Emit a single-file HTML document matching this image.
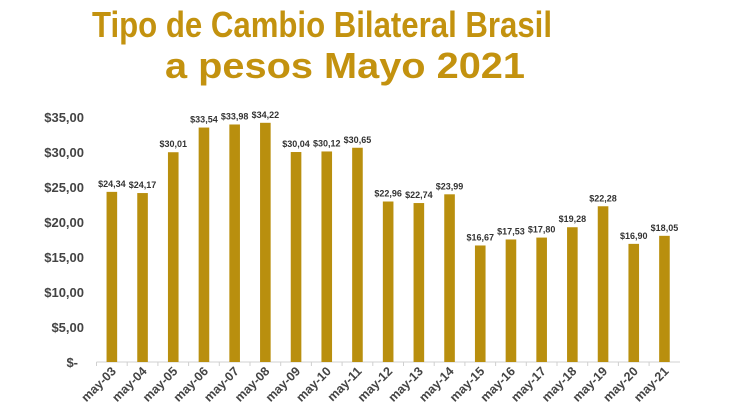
<!DOCTYPE html>
<html><head><meta charset="utf-8"><style>
body{margin:0;background:#fff;width:730px;height:410px;overflow:hidden}
</style></head><body>
<svg width="730" height="410" xmlns="http://www.w3.org/2000/svg" font-family="Liberation Sans, Arial, sans-serif">
<text x="322" y="37" text-anchor="middle" font-size="36" font-weight="bold" fill="#c3920f" textLength="460" lengthAdjust="spacingAndGlyphs">Tipo de Cambio Bilateral Brasil</text>
<text x="345" y="78" text-anchor="middle" font-size="36" font-weight="bold" fill="#c3920f" textLength="360" lengthAdjust="spacingAndGlyphs">a pesos Mayo 2021</text>
<g font-size="13" font-weight="bold" fill="#444" text-anchor="end">
<text x="84" y="122">$35,00</text><text x="84" y="157">$30,00</text><text x="84" y="192">$25,00</text><text x="84" y="227">$20,00</text><text x="84" y="262">$15,00</text><text x="84" y="297">$10,00</text><text x="84" y="332">$5,00</text><text x="78" y="367">$-</text>
</g>
<line x1="96.5" y1="362" x2="680" y2="362" stroke="#d0d0d0" stroke-width="1"/>
<g id="bars"></g>
</svg>
<script>
var v=[24.34,24.17,30.01,33.54,33.98,34.22,30.04,30.12,30.65,22.96,22.74,23.99,16.67,17.53,17.80,19.28,22.28,16.90,18.05];
var g=document.getElementById('bars'),s='';
for(var i=0;i<v.length;i++){var cx=96.5+30.7*(i+0.5),h=v[i]*6.99,y=362-h;
s+='<rect x="'+(cx-5.3)+'" y="'+y+'" width="10.6" height="'+h+'" fill="#b98f0e"/>';
s+='<text x="'+cx+'" y="'+(y-5)+'" font-size="9" font-weight="bold" fill="#333" text-anchor="middle">$'+v[i].toFixed(2).replace('.',',')+'</text>';
s+='<line x1="'+(96.5+30.7*i)+'" y1="362" x2="'+(96.5+30.7*i)+'" y2="366" stroke="#d0d0d0"/>';
var n=(i+3<10?'0':'')+(i+3);
s+='<text transform="translate('+(cx+5)+',372) rotate(-45)" font-size="12.5" font-weight="bold" fill="#444" text-anchor="end">may-'+n+'</text>';}
g.innerHTML=s;
</script>
</body></html>
